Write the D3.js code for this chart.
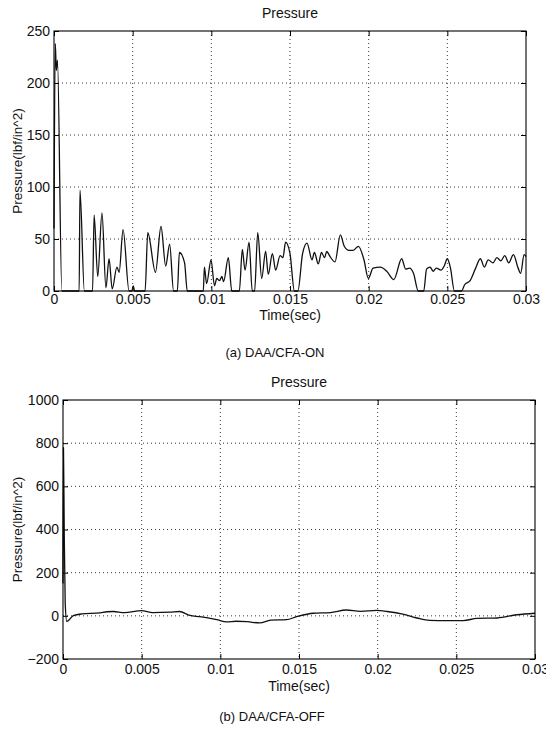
<!DOCTYPE html>
<html>
<head>
<meta charset="utf-8">
<script src="https://cdn.jsdelivr.net/npm/d3@7/dist/d3.min.js"></script>
<style>
  html, body { margin: 0; padding: 0; background: #fff; }
  svg { display: block; }
  text { font-family: "Liberation Sans", Arial, Helvetica, sans-serif; fill: #111; }
</style>
</head>
<body>
<svg id="chart" width="546" height="737"></svg>
<script>
// ---------- DATA ----------
// Panel (a) DAA/CFA-ON : time (s) and pressure (lbf/in^2)
const timeA = [0, 0.00008, 0.00015, 0.00022, 0.0005, 0.0016, 0.00165, 0.00193, 0.00245, 0.00255,
  0.00278, 0.00305, 0.0033, 0.0035, 0.0037, 0.004, 0.00414, 0.00439, 0.00477, 0.00495,
  0.00504, 0.00512, 0.00579, 0.00596, 0.00645, 0.0068, 0.0071, 0.00735, 0.0076, 0.00784,
  0.00797, 0.0083, 0.00847, 0.00949, 0.00956, 0.0097, 0.00998, 0.0102, 0.01035, 0.01052,
  0.01067, 0.01078, 0.01108, 0.0113, 0.01178, 0.01197, 0.01214, 0.0124, 0.0126, 0.01275,
  0.01295, 0.0132, 0.01345, 0.01362, 0.01388, 0.01409, 0.01437, 0.01455, 0.01472, 0.015,
  0.01528, 0.0155, 0.0158, 0.01608, 0.0164, 0.01655, 0.0168, 0.017, 0.0172, 0.01733,
  0.01755, 0.01786, 0.0182, 0.01845, 0.01875, 0.019, 0.01935, 0.0197, 0.01998, 0.02028,
  0.02075, 0.02115, 0.0216, 0.0221, 0.02235, 0.0226, 0.02285, 0.02315, 0.0235, 0.02368,
  0.0239, 0.0241, 0.0243, 0.0246, 0.0248, 0.025, 0.0252, 0.02545, 0.0259, 0.0261,
  0.02645, 0.0268, 0.0271, 0.02735, 0.0276, 0.0279, 0.02815, 0.0284, 0.02865, 0.0289,
  0.0292, 0.0295, 0.02966, 0.02988, 0.03];
const pressA = [60, 238, 212, 222, 0, 0, 97, 0, 0, 73,
  14, 75, 3, 31, 2, 23, 18, 59, 0, 0,
  5, 0, 0, 56, 18, 62, 24, 45, 0, 0,
  37, 27, 0, 0, 23, 7, 30, 5, 12, 10,
  14, 9, 32, 0, 0, 40, 20, 47, 0, 0,
  56, 12, 38, 16, 36, 20, 34, 32, 47, 36,
  0, 0, 36, 46, 30, 37, 26, 37, 32, 38,
  33, 28, 54, 43, 39, 39, 43, 30, 12, 22,
  23, 19, 11, 31, 21, 22, 17, 0, 0, 21,
  23, 19, 22, 20, 24, 31, 22, 0, 0, 6,
  10, 22, 31, 23, 30, 27, 32, 29, 34, 27,
  35, 22, 17, 35, 33];

// Panel (b) DAA/CFA-OFF
const timeB = [0, 0.00003, 0.00008, 0.00014, 0.00024, 0.00066, 0.0012, 0.00235, 0.0028, 0.0032,
  0.0039, 0.005, 0.0057, 0.0068, 0.0074, 0.00807, 0.0087, 0.00977, 0.0104, 0.011,
  0.0117, 0.0125, 0.0132, 0.0142, 0.01485, 0.0159, 0.017, 0.018, 0.0189, 0.01995,
  0.0206, 0.0216, 0.0225, 0.0233, 0.0244, 0.02545, 0.0263, 0.0276, 0.02885, 0.03];
const pressB = [150, 780, 380, 60, -26, 1, 9, 14, 19, 20,
  15, 24, 15, 17, 20, 2, -4, -18, -28, -25,
  -27, -33, -20, -18, -4, 12, 15, 27, 21, 25,
  20, 8, -10, -21, -22, -22, -12, -10, 5, 12];

const xTicks = [0, 0.005, 0.01, 0.015, 0.02, 0.025, 0.03];
const xTickLabels = ["0", "0.005", "0.01", "0.015", "0.02", "0.025", "0.03"];
const yTicksA = [0, 50, 100, 150, 200, 250];
const yTicksB = [-200, 0, 200, 400, 600, 800, 1000];

const titleText = "Pressure";
const xLabelText = "Time(sec)";
const yLabelText = "Pressure(lbf/in^2)";
const captionA = "(a) DAA/CFA-ON";
const captionB = "(b) DAA/CFA-OFF";

// ---------- DRAW ----------
const svg = d3.select("#chart");

function panel(cfg) {
  const g = svg.append("g");
  const x = d3.scaleLinear().domain([0, 0.03]).range([cfg.left, cfg.right]);
  const y = d3.scaleLinear().domain(cfg.yDomain).range([cfg.bottom, cfg.top]);

  // grid (dotted)
  const grid = g.append("g").attr("stroke", "#222").attr("stroke-width", 0.9)
    .attr("stroke-dasharray", "1,3").attr("fill", "none");
  xTicks.slice(1, -1).forEach(t => {
    grid.append("line").attr("x1", x(t)).attr("x2", x(t)).attr("y1", cfg.top).attr("y2", cfg.bottom);
  });
  cfg.yTicks.slice(1, -1).forEach(v => {
    grid.append("line").attr("y1", y(v)).attr("y2", y(v)).attr("x1", cfg.left).attr("x2", cfg.right);
  });

  // axes with inward ticks (bottom/left with labels, top/right mirrored)
  const fmtX = (d, i) => xTickLabels[i];
  const axB = d3.axisBottom(x).tickValues(xTicks).tickSizeInner(-5).tickSizeOuter(0).tickPadding(cfg.xPad).tickFormat(fmtX);
  const axT = d3.axisTop(x).tickValues(xTicks).tickSizeInner(-5).tickSizeOuter(0).tickFormat("");
  const axL = d3.axisLeft(y).tickValues(cfg.yTicks).tickSizeInner(-5).tickSizeOuter(0).tickPadding(4)
    .tickFormat(d => d < 0 ? "\u2212" + Math.abs(d) : String(d));
  const axR = d3.axisRight(y).tickValues(cfg.yTicks).tickSizeInner(-5).tickSizeOuter(0).tickFormat("");

  [[axB, `translate(0,${cfg.bottom})`], [axT, `translate(0,${cfg.top})`],
   [axL, `translate(${cfg.left},0)`], [axR, `translate(${cfg.right},0)`]].forEach(([ax, tr]) => {
    const a = g.append("g").attr("transform", tr).call(ax);
    a.select(".domain").remove();
    a.selectAll("line").attr("stroke", "#000").attr("stroke-width", 1);
    a.selectAll("text").attr("font-size", 14).attr("fill", "#111")
      .style("font-family", '"Liberation Sans", Arial, sans-serif');
  });

  // data line
  const line = d3.line().x((d, i) => x(cfg.t[i])).y(d => y(d)).curve(d3.curveMonotoneX);
  g.append("path").datum(cfg.p).attr("d", line)
    .attr("fill", "none").attr("stroke", "#111").attr("stroke-width", 1.3).attr("stroke-linejoin", "round");

  // box
  g.append("rect").attr("x", cfg.left).attr("y", cfg.top)
    .attr("width", cfg.right - cfg.left).attr("height", cfg.bottom - cfg.top)
    .attr("fill", "none").attr("stroke", "#000").attr("stroke-width", 1.1);

  const cx = (cfg.left + cfg.right) / 2;
  g.append("text").attr("x", cx).attr("y", cfg.top - 13).attr("text-anchor", "middle")
    .attr("font-size", 14).text(titleText);
  g.append("text").attr("x", cx).attr("y", cfg.bottom + cfg.xLabelOff).attr("text-anchor", "middle")
    .attr("font-size", 14).text(xLabelText);
  g.append("text").attr("transform", `translate(22,${(cfg.top + cfg.bottom) / 2}) rotate(-90)`)
    .attr("text-anchor", "middle").attr("font-size", 13.5).text(yLabelText);
  g.append("text").attr("x", cfg.capX).attr("y", cfg.capY).attr("text-anchor", "middle")
    .attr("font-size", 13).text(cfg.caption);
}

panel({ left: 54, right: 526, top: 31, bottom: 291, yDomain: [0, 250], yTicks: yTicksA,
  t: timeA, p: pressA, xPad: 3, xLabelOff: 29, caption: captionA, capX: 275, capY: 357 });
panel({ left: 63, right: 535, top: 400, bottom: 659, yDomain: [-200, 1000], yTicks: yTicksB,
  t: timeB, p: pressB, xPad: 5, xLabelOff: 32, caption: captionB, capX: 272, capY: 721 });
</script>
</body>
</html>
